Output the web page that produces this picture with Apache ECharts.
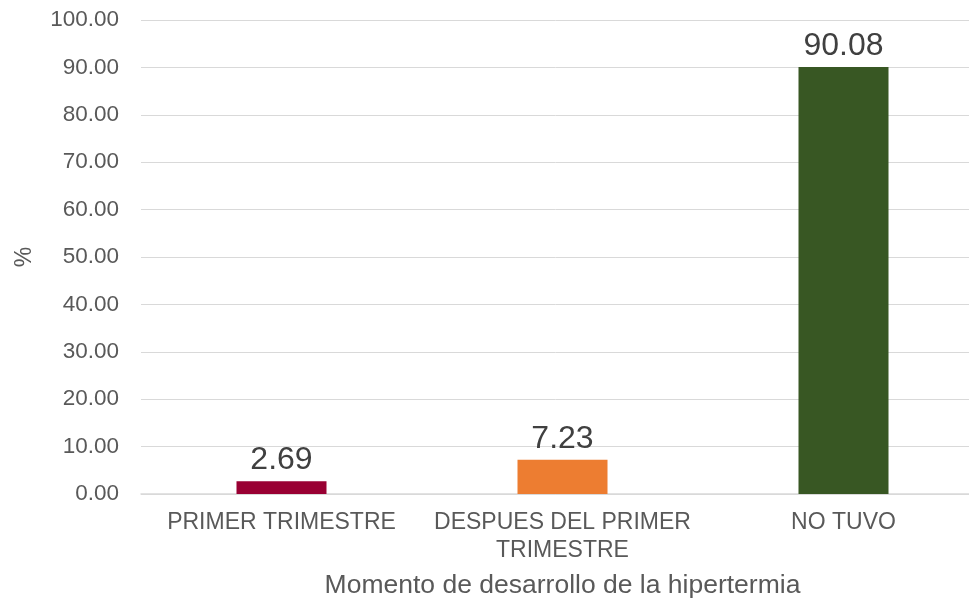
<!DOCTYPE html>
<html>
<head>
<meta charset="utf-8">
<script src="https://cdn.jsdelivr.net/npm/echarts@6/dist/echarts.min.js"></script>
<style>
  html, body { margin: 0; padding: 0; background: #fff; }
  #chart { width: 969px; height: 602px; }
</style>
</head>
<body>
<div id="chart"></div>
<script>
const categories = ['PRIMER TRIMESTRE', 'DESPUES DEL PRIMER\nTRIMESTRE', 'NO TUVO']
const values = [2.69, 7.23, 90.08]
const barColors = ['#990033', '#ED7D31', '#385723']

const chart = echarts.init(document.getElementById('chart'))

const option = {
  backgroundColor: '#fff',
  textStyle: { fontFamily: 'Liberation Sans, Arial, sans-serif' },
  grid: { left: 141, top: 20, width: 843, bottom: 108, outerBoundsMode: 'none', containLabel: false },
  xAxis: {
    type: 'category',
    data: categories,
    name: 'Momento de desarrollo de la hipertermia',
    nameLocation: 'middle',
    nameGap: 78,
    nameTextStyle: { fontSize: 26.5, color: '#595959' },
    axisLine: { lineStyle: { color: '#d9d9d9', width: 1.5 } },
    axisTick: { show: false },
    axisLabel: { fontSize: 23, color: '#595959', margin: 15, lineHeight: 28, interval: 0 },
  },
  yAxis: {
    type: 'value',
    min: 0,
    max: 100,
    interval: 10,
    name: '%',
    nameLocation: 'middle',
    nameGap: 105,
    nameRotate: 90,
    nameTextStyle: { fontSize: 23, color: '#595959' },
    axisLine: { show: false },
    axisTick: { show: false },
    axisLabel: {
      fontSize: 22.5,
      color: '#595959',
      margin: 22,
      formatter: v => v.toFixed(2),
    },
    splitLine: { lineStyle: { color: '#d9d9d9', width: 1 } },
  },
  series: [
    {
      type: 'bar',
      data: values.map((v, i) => ({ value: v, itemStyle: { color: barColors[i] } })),
      barWidth: 90,
      label: {
        show: true,
        position: 'top',
        distance: 5,
        fontSize: 32,
        color: '#404040',
        formatter: p => p.value.toFixed(2),
      },
    },
  ],
}

chart.setOption(option)
</script>
</body>
</html>
